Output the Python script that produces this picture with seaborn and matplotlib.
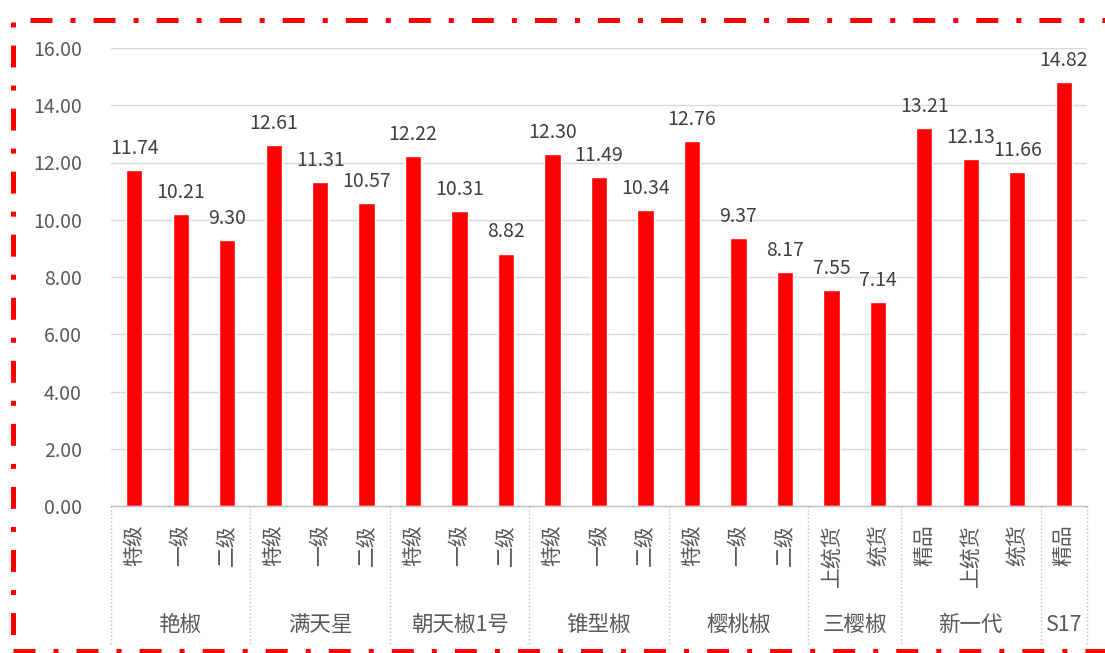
import numpy as np
import pandas as pd
import matplotlib
matplotlib.use('Agg')
import matplotlib.pyplot as plt
import matplotlib.transforms as mtransforms
from matplotlib.lines import Line2D
import seaborn as sns

# data
groups = ['艳椒', '满天星', '朝天椒1号', '锥型椒', '樱桃椒', '三樱椒', '新一代', 'S17']
grades = [['特级', '一级', '二级'],
          ['特级', '一级', '二级'],
          ['特级', '一级', '二级'],
          ['特级', '一级', '二级'],
          ['特级', '一级', '二级'],
          ['上统货', '统货'],
          ['精品', '上统货', '统货'],
          ['精品']]
values = [[11.74, 10.21, 9.30],
          [12.61, 11.31, 10.57],
          [12.22, 10.31, 8.82],
          [12.30, 11.49, 10.34],
          [12.76, 9.37, 8.17],
          [7.55, 7.14],
          [13.21, 12.13, 11.66],
          [14.82]]

rows = []
for g, gl, vl in zip(groups, grades, values):
    for gr, v in zip(gl, vl):
        rows.append({'group': g, 'grade': gr, 'value': v, 'key': g + '|' + gr})
df = pd.DataFrame(rows)

sns.set_theme(style='white')
plt.rcParams['font.family'] = ['Noto Sans CJK SC', 'DejaVu Sans']
plt.rcParams['lines.scale_dashes'] = False

W, H = 1105, 653
fig = plt.figure(figsize=(W / 100, H / 100), dpi=100)
ax = fig.add_axes([111 / W, (H - 506) / H, (1087 - 111) / W, (506 - 48) / H])

sns.barplot(data=df, x='key', y='value', color='#ff0000', saturation=1,
            width=0.35, errorbar=None, ax=ax)

for c in ax.containers:
    ax.bar_label(c, fmt='%.2f', padding=8, fontsize=14, color='#404040')

ax.set_ylim(0, 16)
ax.set_yticks(np.arange(0, 17, 2))
ax.set_yticklabels(['%.2f' % t for t in np.arange(0, 17, 2)])
ax.set_xlim(-0.5, len(df) - 0.5)
ax.set_xticks(range(len(df)))
ax.set_xticklabels(df['grade'], rotation=90)
ax.tick_params(axis='y', length=0, pad=21, labelsize=14, labelcolor='#595959')
ax.tick_params(axis='x', length=0, pad=13, labelsize=15, labelcolor='#595959')
ax.set_xlabel('')
ax.set_ylabel('')
ax.yaxis.grid(True, color='#d9d9d9', linewidth=1)
ax.set_axisbelow(True)
for s in ['top', 'right', 'left']:
    ax.spines[s].set_visible(False)
ax.spines['bottom'].set_color('#bfbfbf')
ax.spines['bottom'].set_linewidth(1)

# group labels and separators under the axis
trans = mtransforms.blended_transform_factory(ax.transData, ax.transAxes)
sep_bottom = -(645 - 506) / (506 - 48)
lab_y = -(625 - 506) / (506 - 48)
start = 0
bounds = [-0.5]
for g, gl in zip(groups, grades):
    n = len(gl)
    ax.text(start + (n - 1) / 2, lab_y, g, transform=trans, ha='center', va='center',
            fontsize=15.5, color='#595959')
    start += n
    bounds.append(start - 0.5)
for b in bounds:
    ax.plot([b, b], [0, sep_bottom], transform=trans, color='#bfbfbf',
            linestyle=':', linewidth=1, clip_on=False)

# dash-dot red frame
pat = (0, (15.8, 13, 3.6, 13))
lw = 3.6
fig.add_artist(Line2D([30 / W, 1.0], [(H - 20) / H] * 2, transform=fig.transFigure,
                      color='#ff0000', linewidth=lw, linestyle=pat,
                      dash_capstyle='butt'))
fig.add_artist(Line2D([13 / W] * 2, [(H - 22) / H, (H - 650) / H], transform=fig.transFigure,
                      color='#ff0000', linewidth=lw, linestyle=(28.8, (15.8, 13, 3.6, 13)),
                      dash_capstyle='butt'))
fig.add_artist(Line2D([13 / W, 1.0], [(H - 651) / H] * 2, transform=fig.transFigure,
                      color='#ff0000', linewidth=lw, linestyle=pat,
                      dash_capstyle='butt'))

fig.savefig('out.png', dpi=100)
